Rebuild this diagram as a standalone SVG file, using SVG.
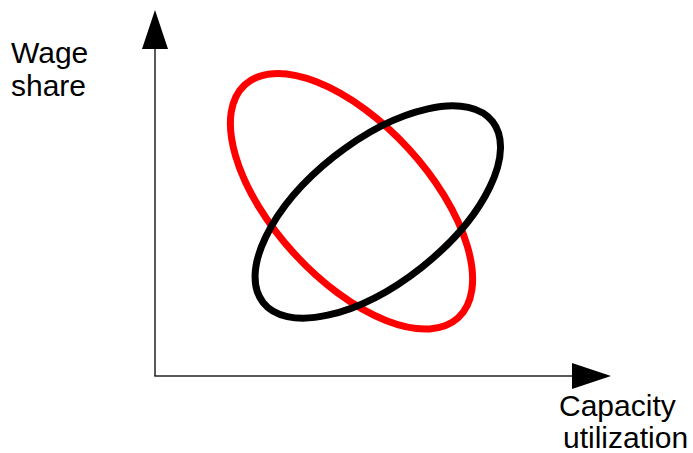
<svg xmlns="http://www.w3.org/2000/svg" width="693" height="453" viewBox="0 0 693 453">
<style>
.lbl{font-family:"Liberation Sans",Arial,sans-serif;font-size:30px;fill:#000}
.axis{stroke:#222;stroke-width:1.5;fill:none}
.head{fill:#000}
.ell{fill:none;stroke-width:7}
</style>
<g id="connectors">
<line class="axis" x1="155" y1="48" x2="155" y2="376"/>
<line class="axis" x1="154.25" y1="376" x2="573" y2="376"/>
<polygon class="head" points="155,10 142,49 168,49"/>
<polygon class="head" points="611,376 572,363 572,389"/>
</g>
<g id="red-ellipse">
<ellipse class="ell" stroke="#ff0000" cx="351.5" cy="201.3" rx="158" ry="77.6" transform="rotate(47.5 351.5 201.3)"/>
</g>
<g id="black-ellipse">
<ellipse class="ell" stroke="#000" cx="377.8" cy="212" rx="146.1" ry="70.6" transform="rotate(-38.3 377.8 212)"/>
</g>
<g id="y-label">
<text class="lbl" x="11" y="63">Wage</text>
<text class="lbl" x="11" y="96">share</text>
</g>
<g id="x-label">
<text class="lbl" x="559" y="416">Capacity</text>
<text class="lbl" x="563" y="448">utilization</text>
</g>
</svg>
